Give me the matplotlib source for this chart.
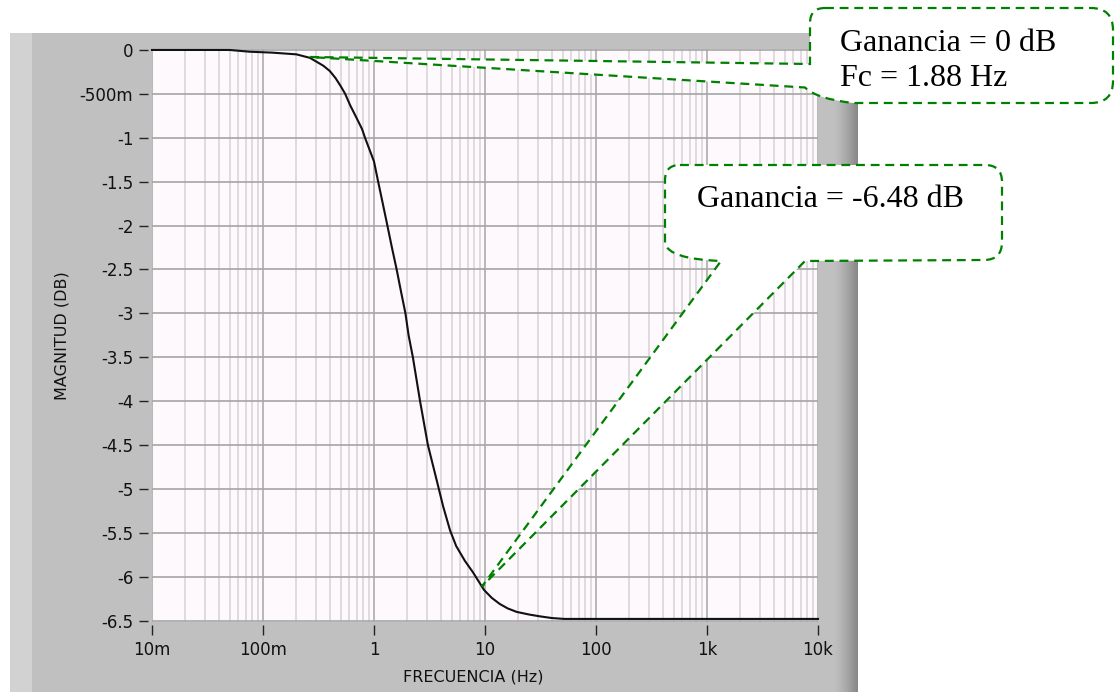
import numpy as np
import matplotlib.pyplot as plt
from matplotlib.path import Path
from matplotlib.patches import PathPatch, Rectangle
from matplotlib.transforms import Affine2D
from matplotlib.ticker import FixedLocator, FixedFormatter, LogLocator, NullFormatter

# data
freq_hz = [0.01, 0.05, 0.076, 0.12, 0.2, 0.265, 0.3, 0.35, 0.4, 0.45, 0.5, 0.55,
           0.61, 0.7, 0.78, 0.83, 1.0, 1.09, 1.2, 1.32, 1.45, 1.6, 1.75, 1.92,
           2.05, 2.24, 2.6, 3.06, 3.67, 4.2, 4.84, 5.5, 6.6, 7.8, 9.8, 11.5,
           13.6, 16.0, 19.3, 25.0, 31.0, 40.0, 52.0, 100.0, 1000.0, 10000.0]
mag_db = [0.0, 0.0, -0.02, -0.03, -0.05, -0.09, -0.13, -0.18, -0.24, -0.32, -0.41, -0.5,
          -0.63, -0.78, -0.9, -1.0, -1.27, -1.5, -1.75, -2.0, -2.25, -2.5, -2.75, -3.0,
          -3.25, -3.5, -4.0, -4.5, -4.9, -5.2, -5.47, -5.65, -5.82, -5.95, -6.15, -6.24,
          -6.31, -6.36, -6.40, -6.43, -6.45, -6.47, -6.48, -6.48, -6.48, -6.48]

xtick_vals = [0.01, 0.1, 1, 10, 100, 1000, 10000]
xtick_labels = ['10m', '100m', '1', '10', '100', '1k', '10k']
ytick_vals = [0, -0.5, -1, -1.5, -2, -2.5, -3, -3.5, -4, -4.5, -5, -5.5, -6, -6.5]
ytick_labels = ['0', '-500m', '-1', '-1.5', '-2', '-2.5', '-3', '-3.5', '-4', '-4.5',
                '-5', '-5.5', '-6', '-6.5']

# callout tips (frequency, dB)
tip_hz = [0.265, 9.4]
tip_db = [-0.08, -6.11]
callout1_lines = ['Ganancia = 0 dB', 'Fc = 1.88 Hz']
callout2_text = 'Ganancia = -6.48 dB'

W, H = 1116, 692
fig = plt.figure(figsize=(W / 100, H / 100), dpi=100)
px = Affine2D().scale(1 / W, -1 / H).translate(0, 1) + fig.transFigure

# grey LabVIEW panel
fig.add_artist(Rectangle((10, 33), 848, H - 33, transform=px, fc='#c0c0c0', ec='none', zorder=-5))
fig.add_artist(Rectangle((10, 33), 22, H - 33, transform=px, fc='#d2d2d2', ec='none', zorder=-4))
for i in range(24):
    g = 0.75 - 0.22 * (i / 23) ** 1.3
    fig.add_artist(Rectangle((834 + i, 33), 1.05, H - 33, transform=px, fc=(g, g, g),
                             ec='none', zorder=-4))

ax = fig.add_axes([152 / W, 1 - 622 / H, 666 / W, 573 / H])
ax.set_facecolor('#fdf9fd')
ax.plot(freq_hz, mag_db, color='#111111', lw=1.5, clip_on=False, zorder=3)

ax.set_xscale('log')
ax.set_xlim(0.01, 10000)
ax.set_ylim(-6.515, 0.011)

ax.xaxis.set_major_locator(FixedLocator(xtick_vals))
ax.xaxis.set_major_formatter(FixedFormatter(xtick_labels))
ax.xaxis.set_minor_locator(LogLocator(base=10, subs=np.arange(2, 10)))
ax.xaxis.set_minor_formatter(NullFormatter())
ax.yaxis.set_major_locator(FixedLocator(ytick_vals))
ax.yaxis.set_major_formatter(FixedFormatter(ytick_labels))

for s in ax.spines.values():
    s.set_visible(False)
ax.spines['left'].set_position(('outward', 3))
ax.spines['bottom'].set_position(('outward', 2.2))

ax.tick_params(axis='both', which='major', length=6.5, width=1, color='#222222',
               labelsize=12, labelcolor='#111111', pad=4)
ax.tick_params(axis='x', which='major', length=7.5)
ax.tick_params(axis='x', which='minor', length=0)

ax.grid(which='minor', axis='x', color='#d9d5d9', lw=1.2, zorder=0)
ax.grid(which='major', axis='x', color='#a6a6a6', lw=1.1, zorder=1)
ax.grid(which='major', axis='y', color='#a6a6a6', lw=1.2, zorder=1)
ax.set_axisbelow(True)

ax.set_xlabel('FRECUENCIA (Hz)', fontsize=11.5, color='#111111', va='center')
ax.xaxis.set_label_coords(0.482, -0.096)
ax.set_ylabel('MAGNITUD (DB)', fontsize=11.5, color='#111111', va='center')
ax.yaxis.set_label_coords(-0.135, 0.5)


def tip_px(f, db):
    fx, fy = fig.transFigure.inverted().transform(ax.transData.transform((f, db)))
    return fx * W, (1 - fy) * H


M, L, C3, CL = Path.MOVETO, Path.LINETO, Path.CURVE3, Path.CLOSEPOLY

t1 = tip_px(tip_hz[0], tip_db[0])
verts1 = [(825, 8), (1091, 8), (1113, 8), (1113, 30), (1113, 81), (1113, 103), (1091, 103),
          (853, 103), (817, 99), (805, 87.5), t1, (810, 64), (810, 23), (810, 8), (825, 8),
          (825, 8)]
codes1 = [M, L, C3, C3, L, C3, C3, L, C3, C3, L, L, L, C3, C3, CL]

t2 = tip_px(tip_hz[1], tip_db[1])
verts2 = [(680, 165), (985, 165), (1002, 165), (1002, 182), (1002, 242), (1002, 260), (984, 260),
          (805, 261), t2, (721, 261), (668, 259), (665, 243), (665, 180), (665, 165), (680, 165),
          (680, 165)]
codes2 = [M, L, C3, C3, L, C3, C3, L, L, L, C3, C3, L, C3, C3, CL]

for verts, codes in [(verts1, codes1), (verts2, codes2)]:
    fig.add_artist(PathPatch(Path(verts, codes), transform=px, fc='white', ec='#008000',
                             lw=1.6, ls=(0, (4, 2.6)), zorder=10, clip_on=False))

for line, base_y in zip(callout1_lines, [51, 86]):
    fig.text(840 / W, 1 - base_y / H, line, fontsize=23, family='Liberation Serif',
             va='baseline', ha='left', zorder=11)
fig.text(697 / W, 1 - 207 / H, callout2_text, fontsize=23, family='Liberation Serif',
         va='baseline', ha='left', zorder=11)

fig.savefig('out.png', dpi=100)
